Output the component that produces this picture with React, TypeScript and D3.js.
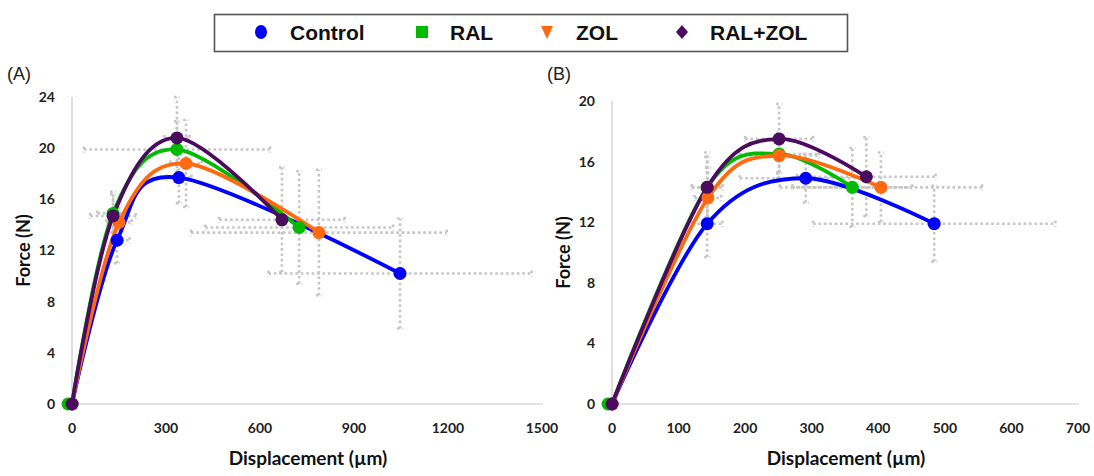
import React from "react";
import * as d3 from "d3";

// series order: Control, RAL, ZOL, RAL+ZOL
const seriesNames = ["Control", "RAL", "ZOL", "RAL+ZOL"];
const seriesColors = ["#0000ff", "#00bb00", "#ff6a10", "#4b0b5e"];

// panel A: displacement (um), force (N), errors
const dispA = [
  [0, 144, 341, 1047],
  [0, 131, 335, 725],
  [0, 150, 364, 788],
  [0, 131, 335, 670],
];
const forceA = [
  [0, 12.8, 17.7, 10.2],
  [0, 14.9, 19.9, 13.8],
  [0, 14.2, 18.8, 13.4],
  [0, 14.7, 20.8, 14.4],
];
const dispErrA = [
  [0, 40, 40, 420],
  [0, 50, 297, 300],
  [0, 40, 50, 408],
  [0, 73, 40, 200],
];
const forceErrA = [
  [0, 1.8, 2.0, 4.3],
  [0, 1.5, 2.2, 4.4],
  [0, 1.5, 3.4, 4.9],
  [0, 1.9, 3.2, 4.1],
];

// panel B
const dispB = [
  [0, 143, 291, 484],
  [0, 143, 251, 361],
  [0, 144, 251, 404],
  [0, 143, 251, 382],
];
const forceB = [
  [0, 11.9, 14.9, 11.9],
  [0, 14.3, 16.5, 14.3],
  [0, 13.6, 16.4, 14.3],
  [0, 14.3, 17.5, 15.0],
];
const dispErrB = [
  [0, 23, 99, 182],
  [0, 23, 60, 90],
  [0, 20, 60, 152],
  [0, 23, 51, 104],
];
const forceErrB = [
  [0, 2.2, 1.6, 2.5],
  [0, 2.0, 1.2, 2.6],
  [0, 2.0, 1.5, 2.3],
  [0, 2.3, 2.3, 2.6],
];

const ticksXA = [0, 300, 600, 900, 1200, 1500];
const ticksYA = [0, 4, 8, 12, 16, 20, 24];
const ticksXB = [0, 100, 200, 300, 400, 500, 600, 700];
const ticksYB = [0, 4, 8, 12, 16, 20];

const tickFont = "Lato, 'Open Sans', sans-serif";
const errColor = "#c6c6c6";

function Panel({ label, left, right, top, bottom, xMax, yMax, xTicks, yTicks, disp, force, dErr, fErr, labelX }) {
  const x = d3.scaleLinear().domain([0, xMax]).range([left, right]);
  const y = d3.scaleLinear().domain([0, yMax]).range([bottom, top]);
  const line = d3.line<number>()
    .x(d => x(d[0]))
    .y(d => y(d[1]))
    .curve(d3.curveCardinal.tension(0));

  const errs = [];
  disp.forEach((xs, s) => {
    xs.forEach((v, i) => {
      if (i === 0) return;
      const cx = x(v), cy = y(force[s][i]);
      const x0 = x(v - dErr[s][i]), x1 = x(v + dErr[s][i]);
      const y0 = y(force[s][i] - fErr[s][i]), y1 = y(force[s][i] + fErr[s][i]);
      errs.push(<g key={`e${s}-${i}`}>
        <line x1={x0} x2={x1} y1={cy} y2={cy} />
        <line x1={x0} x2={x0} y1={cy - 3} y2={cy + 3} />
        <line x1={x1} x2={x1} y1={cy - 3} y2={cy + 3} />
        <line x1={cx} x2={cx} y1={y0} y2={y1} />
        <line x1={cx - 3} x2={cx + 3} y1={y0} y2={y0} />
        <line x1={cx - 3} x2={cx + 3} y1={y1} y2={y1} />
      </g>);
    });
  });

  return (
    <g>
      <text x={labelX} y={80} fontFamily="'Liberation Sans', Arial, sans-serif" fontSize={18} fill="#222">{label}</text>
      {/* axes */}
      <line x1={left} x2={left} y1={top} y2={bottom} stroke="#c8c8c8" strokeWidth={1.2} />
      <line x1={left} x2={right + 1} y1={bottom} y2={bottom} stroke="#c8c8c8" strokeWidth={1.2} />
      {yTicks.map(t => (
        <text key={`y${t}`} x={left - 17} y={y(t)} dy="0.35em" textAnchor="end"
          fontFamily={tickFont} fontWeight="bold" fontSize={14} fill="#222">{t}</text>
      ))}
      {xTicks.map(t => (
        <text key={`x${t}`} x={x(t)} y={bottom + 29} textAnchor="middle"
          fontFamily={tickFont} fontWeight="bold" fontSize={14} fill="#222">{t}</text>
      ))}
      <text transform={`translate(${left - 42},${(top + bottom) / 2}) rotate(-90)`} textAnchor="middle"
        fontFamily={tickFont} fontWeight="bold" fontSize={18} fill="#111">Force (N)</text>
      <text x={(left + right) / 2 + 1} y={bottom + 61} textAnchor="middle"
        fontFamily={tickFont} fontWeight="bold" fontSize={19} fill="#111">Displacement (µm)</text>
      {/* error bars */}
      <g stroke={errColor} strokeWidth={2.6} strokeDasharray="2.6 2.8" fill="none">{errs}</g>
      {/* lines */}
      {disp.map((xs, s) => (
        <path key={`l${s}`} d={line(xs.map((v, i) => [v, force[s][i]]))}
          fill="none" stroke={seriesColors[s]} strokeWidth={3.8} />
      ))}
      {/* markers */}
      {disp.map((xs, s) => xs.map((v, i) => (
        <circle key={`m${s}-${i}`} cx={x(v) - (s === 1 && i === 0 ? 4 : 0)} cy={y(force[s][i])} r={6.5} fill={seriesColors[s]} />
      )))}
    </g>
  );
}

function Legend() {
  const items = [
    { mx: 261, tx: 290 },
    { mx: 422, tx: 450 },
    { mx: 547, tx: 576 },
    { mx: 682, tx: 710 },
  ];
  const cy = 32;
  return (
    <g>
      <rect x={214.5} y={14.5} width={633} height={37} fill="#fff" stroke="#555" strokeWidth={1.6} />
      {items.map((it, s) => {
        const c = seriesColors[s];
        let mark;
        if (s === 0) mark = <ellipse cx={it.mx} cy={cy} rx={6} ry={7} fill={c} />;
        else if (s === 1) mark = <rect x={it.mx - 6} y={cy - 6} width={12} height={12} fill={c} />;
        else if (s === 2) mark = <path d={`M${it.mx - 6},${cy - 6}L${it.mx + 6},${cy - 6}L${it.mx},${cy + 7}Z`} fill={c} />;
        else mark = <path d={`M${it.mx},${cy - 7}L${it.mx + 6},${cy}L${it.mx},${cy + 7}L${it.mx - 6},${cy}Z`} fill={c} />;
        return (
          <g key={s}>
            {mark}
            <text x={it.tx} y={cy + 7.5} fontFamily="'Liberation Sans', Arial, sans-serif" fontWeight="bold"
              fontSize={21} fill="#111">{seriesNames[s]}</text>
          </g>
        );
      })}
    </g>
  );
}

export default function App() {
  return (
    <svg width={1094} height={476} style={{ position: "absolute", left: 0, top: 0, background: "#fff" }}>
      <Legend />
      <Panel label="(A)" labelX={7} left={72} right={542} top={97} bottom={404} xMax={1500} yMax={24}
        xTicks={ticksXA} yTicks={ticksYA} disp={dispA} force={forceA} dErr={dispErrA} fErr={forceErrA} />
      <Panel label="(B)" labelX={547} left={612} right={1078} top={101} bottom={404} xMax={700} yMax={20}
        xTicks={ticksXB} yTicks={ticksYB} disp={dispB} force={forceB} dErr={dispErrB} fErr={forceErrB} />
    </svg>
  );
}
